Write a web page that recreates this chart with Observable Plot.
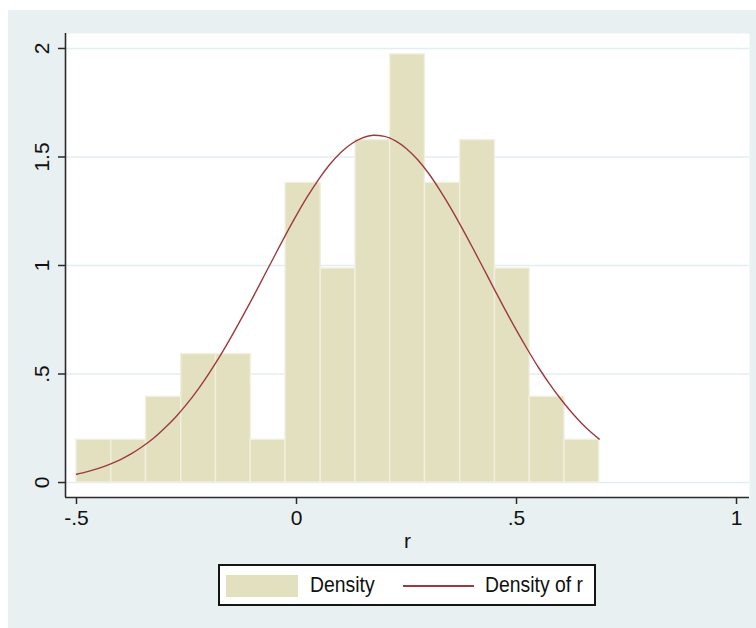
<!DOCTYPE html>
<html>
<head>
<meta charset="utf-8">
<script src="https://cdn.jsdelivr.net/npm/d3@7"></script>
<script src="https://cdn.jsdelivr.net/npm/@observablehq/plot@0.6"></script>
<style>
  html, body { margin: 0; padding: 0; background: #ffffff; }
  #wrap { position: relative; width: 756px; height: 628px; overflow: hidden; }
  #bg { position: absolute; left: 8px; top: 10px; right: 0; bottom: 0; background: #e8f0f2; }
  #chart { position: absolute; left: 0; top: 0; }
  #legend { position: absolute; left: 218px; top: 564px; width: 378px; height: 42px; box-sizing: border-box;
            border: 2px solid #151515; background: #ffffff;
            font-family: "Liberation Sans", Arial, sans-serif; font-size: 22px; color: #111; }
  #legend .sw { position: absolute; left: 6px; top: 9px; width: 72px; height: 22px; background: #e3e0bf; }
  #legend .ln { position: absolute; left: 183px; top: 19px; width: 71px; height: 1.6px; background: #9b3a3f; }
  #legend .tx { position: absolute; top: 0; height: 38px; line-height: 38px; white-space: nowrap;
                transform: scaleX(0.88); transform-origin: left center; }
</style>
</head>
<body>
<div id="wrap">
  <div id="bg"></div>
  <div id="chart"></div>
  <div id="legend">
    <div class="sw"></div>
    <div class="tx" style="left:90px">Density</div>
    <div class="ln"></div>
    <div class="tx" style="left:265px">Density of r</div>
  </div>
</div>
<script>
// Histogram bin edges (x1 / x2) and bar heights (density)
const binStart = [-0.5, -0.421, -0.342, -0.262, -0.183, -0.104, -0.025, 0.055, 0.134, 0.213, 0.292, 0.372, 0.451, 0.530, 0.609];
const binEnd   = [-0.421, -0.342, -0.262, -0.183, -0.104, -0.025, 0.055, 0.134, 0.213, 0.292, 0.372, 0.451, 0.530, 0.609, 0.688];
const density  = [0.197, 0.197, 0.395, 0.592, 0.592, 0.197, 1.381, 0.986, 1.578, 1.973, 1.381, 1.578, 0.986, 0.395, 0.197];

// Density-of-r curve
const curveX = [-0.5, -0.475, -0.45, -0.425, -0.4, -0.375, -0.35, -0.325, -0.3, -0.275, -0.25, -0.225, -0.2, -0.175,
                -0.15, -0.125, -0.1, -0.075, -0.05, -0.025, 0, 0.025, 0.05, 0.075, 0.1, 0.125, 0.15, 0.175, 0.2,
                0.225, 0.25, 0.275, 0.3, 0.325, 0.35, 0.375, 0.4, 0.425, 0.45, 0.475, 0.5, 0.525, 0.55, 0.575,
                0.6, 0.625, 0.65, 0.665, 0.688];
const curveY = [0.038, 0.05, 0.065, 0.084, 0.106, 0.133, 0.166, 0.204, 0.25, 0.301, 0.36, 0.426, 0.5, 0.579,
                0.665, 0.756, 0.85, 0.947, 1.044, 1.14, 1.232, 1.318, 1.396, 1.464, 1.52, 1.561, 1.588, 1.6, 1.595,
                1.574, 1.538, 1.488, 1.425, 1.35, 1.267, 1.177, 1.083, 0.986, 0.889, 0.793, 0.701, 0.613, 0.53, 0.455,
                0.386, 0.324, 0.269, 0.24, 0.2];

// Axis ticks
const xTickValues = [-0.5, 0, 0.5, 1];
const xTickLabels = ["-.5", "0", ".5", "1"];
const yTickValues = [0, 0.5, 1, 1.5, 2];
const yTickLabels = ["0", ".5", "1", "1.5", "2"];
const xTitle = "r";

const bars = binStart.map((s, i) => ({x1: s, x2: binEnd[i], y: density[i]}));
const curve = curveX.map((x, i) => ({x, y: curveY[i]}));

const xDomain = [-0.525, 1.0295];
const yDomain = [-0.069, 2.069];
const font = '"Liberation Sans", Arial, sans-serif';
const axisColor = "#2b2b2b";

const chart = Plot.plot({
  width: 756,
  height: 556,
  marginLeft: 65,
  marginRight: 7,
  marginTop: 33,
  marginBottom: 59,
  style: {background: "transparent", fontFamily: font, fontSize: "21px", color: "#111"},
  x: {domain: xDomain, axis: null},
  y: {domain: yDomain, axis: null},
  marks: [
    Plot.frame({fill: "#ffffff", stroke: null}),
    Plot.gridY(yTickValues, {stroke: "#e4edf0", strokeOpacity: 1, strokeWidth: 1.6}),
    Plot.rectY(bars, {x1: "x1", x2: "x2", y: "y", fill: "#e3e0bf", stroke: "#f1efdf", strokeWidth: 1.4}),
    Plot.line(curve, {x: "x", y: "y", stroke: "#9b3a3f", strokeWidth: 1.4, curve: "monotone-x"}),
    Plot.ruleX([xDomain[0]], {stroke: axisColor, strokeWidth: 1.6}),
    Plot.ruleY([yDomain[0]], {stroke: axisColor, strokeWidth: 1.6}),
    Plot.axisX({ticks: xTickValues, tickSize: 7, tickPadding: 6, stroke: axisColor, strokeWidth: 1.5,
                tickFormat: d => xTickLabels[xTickValues.indexOf(d)], label: null, fontSize: 21, fill: "#111"}),
    Plot.axisY({ticks: yTickValues, tickSize: 7, stroke: axisColor, strokeWidth: 1.5,
                tickFormat: () => "", label: null}),
    Plot.text(yTickValues, {y: d => d, text: (d, i) => yTickLabels[i], frameAnchor: "left",
                rotate: -90, dx: -23, textAnchor: "middle", lineAnchor: "middle", fontSize: 21, fill: "#111"}),
    Plot.text([xTitle], {frameAnchor: "bottom", text: d => d, dy: 44, lineAnchor: "middle", fontSize: 21, fill: "#111"})
  ]
});
document.getElementById("chart").appendChild(chart);
</script>
</body>
</html>
